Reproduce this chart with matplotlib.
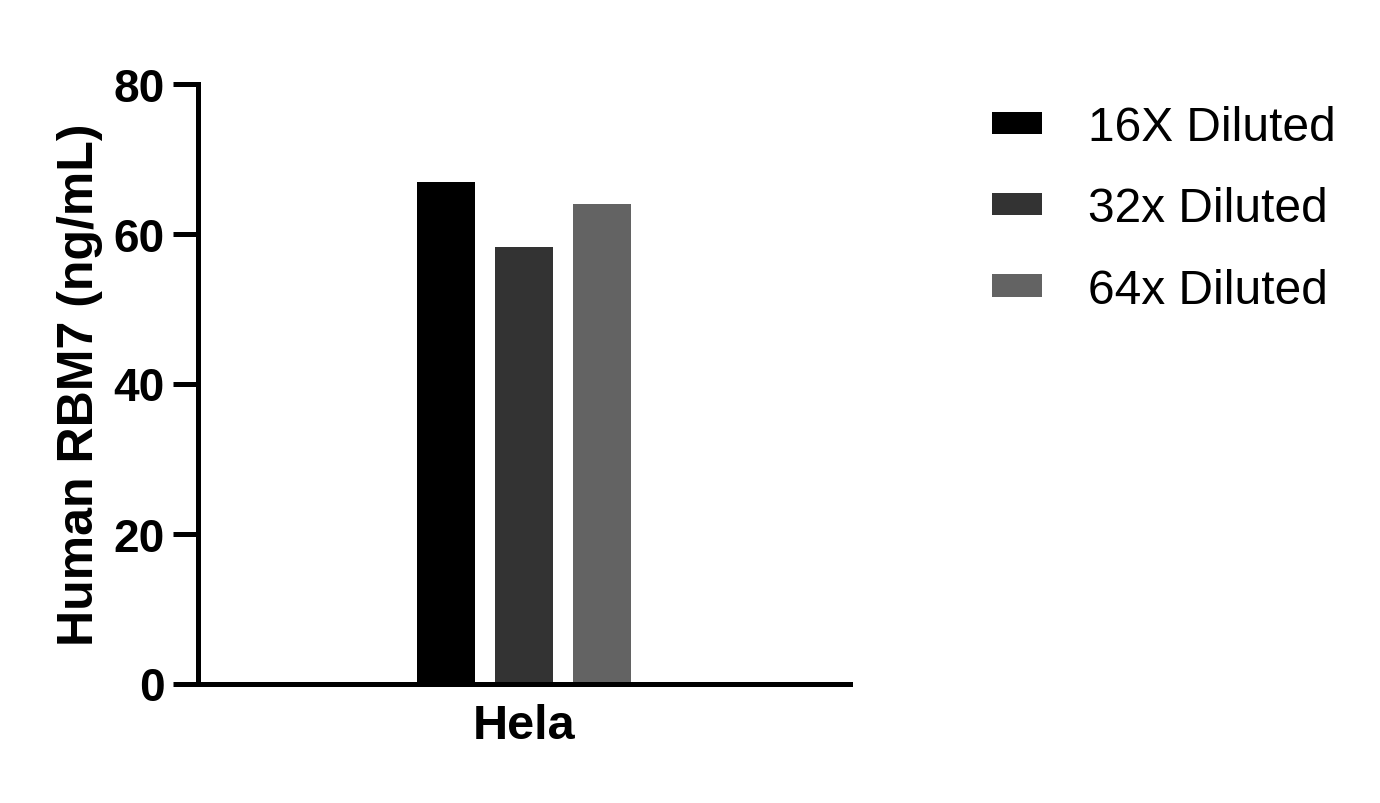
import numpy as np
import matplotlib
matplotlib.use("Agg")
import matplotlib.pyplot as plt

plt.rcParams["font.family"] = ["Liberation Sans", "DejaVu Sans"]

group = "Hela"
series = ["16X Diluted", "32x Diluted", "64x Diluted"]
values = [66.9, 58.2, 63.9]
colors = ["#000000", "#333333", "#636363"]

fig = plt.figure(figsize=(13.8, 8.04), dpi=100)
ax = fig.add_axes([198 / 1380, 119.5 / 804, 652 / 1380, 600 / 804])

x = np.arange(len(series))
for i, (lab, v, c) in enumerate(zip(series, values, colors)):
    ax.bar(x[i], v, width=0.75, color=c, label=lab)

ax.set_xlim(-3.18, 5.18)
ax.set_ylim(0, 80)
ax.set_yticks([0, 20, 40, 60, 80])
ax.set_xticks([1])
ax.set_xticklabels([group], fontsize=35, fontweight="bold")

for s in ["top", "right"]:
    ax.spines[s].set_visible(False)
for s in ["left", "bottom"]:
    ax.spines[s].set_linewidth(3.6)

ax.tick_params(axis="y", length=18, width=3.6, pad=6, labelsize=33)
ax.tick_params(axis="x", length=0, pad=14)
for t in ax.get_yticklabels():
    t.set_fontweight("bold")

ax.set_ylabel("Human RBM7 (ng/mL)", fontsize=36, fontweight="bold")
ax.yaxis.set_label_coords(-0.145, 0.5)

ax.legend(loc="upper left", bbox_to_anchor=(992 / 1380, 1 - 106 / 804),
          bbox_transform=fig.transFigure, frameon=False, fontsize=34.5,
          handlelength=1.05, handleheight=0.34, handletextpad=0.95,
          labelspacing=0.76, borderaxespad=0, borderpad=0)

fig.savefig("out.png", dpi=100)
